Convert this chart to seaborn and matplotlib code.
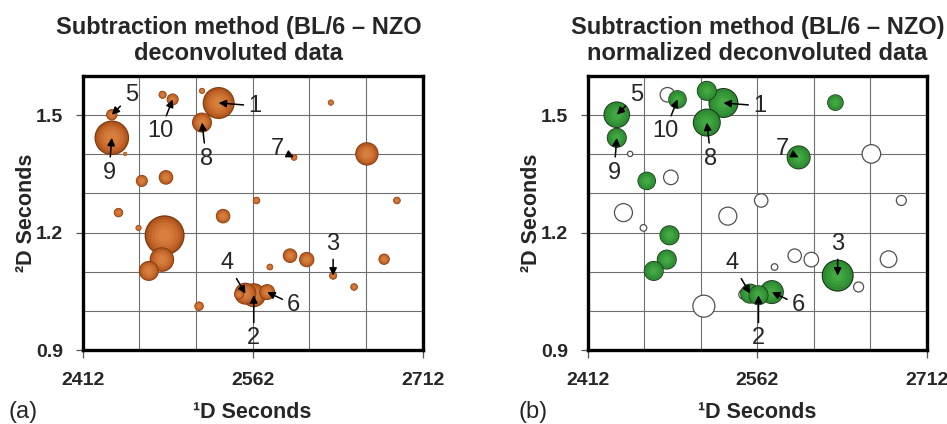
import numpy as np
import pandas as pd
import matplotlib
matplotlib.use("Agg")
import matplotlib.pyplot as plt
import seaborn as sns

# ---------------- data ----------------
peak_label = ["1", "2", "3", "4", "5", "6", "7", "8", "9", "10"] + [""] * 22
d1_sec = [2532.0, 2563.0, 2633.0, 2555.6, 2437.7, 2574.8, 2598.5, 2517.3, 2437.7, 2491.4,
          2482.5, 2517.3, 2631.0, 2662.8, 2449.5, 2464.2, 2485.5, 2565.4, 2689.3, 2443.6,
          2535.9, 2461.3, 2484.3, 2481.9, 2470.4, 2595.0, 2609.7, 2577.2, 2678.0, 2651.5,
          2514.7, 2550.0]
d2_sec = [1.531, 1.040, 1.090, 1.044, 1.501, 1.048, 1.392, 1.481, 1.442, 1.540,
          1.552, 1.562, 1.532, 1.401, 1.401, 1.332, 1.341, 1.282, 1.282, 1.251,
          1.242, 1.212, 1.193, 1.131, 1.102, 1.141, 1.131, 1.112, 1.132, 1.061,
          1.012, 1.042]
# (a) deconvoluted difference volume
volume_a = [2.56, 1.44, 0.16, 1.21, 0.32, 0.64, 0.11, 1.00, 3.00, 0.36,
            0.16, 0.09, 0.09, 1.37, 0.04, 0.36, 0.53, 0.14, 0.14, 0.22,
            0.53, 0.09, 4.00, 1.51, 1.00, 0.53, 0.59, 0.11, 0.32, 0.14,
            0.22, 0.25]
# (b) normalized deconvoluted difference volume
volume_b = [2.25, 1.00, 2.56, 1.00, 1.77, 1.44, 1.44, 1.96, 1.00, 0.86,
            0.53, 1.00, 0.69, 0.86, 0.07, 0.86, 0.53, 0.45, 0.25, 0.81,
            0.81, 0.11, 1.00, 1.00, 1.00, 0.45, 0.53, 0.11, 0.69, 0.25,
            1.21, 0.25]
significant_b = [True, True, True, True, True, True, True, True, True, True,
                 False, True, True, False, False, True, False, False, False, False,
                 False, False, True, True, True, False, False, False, False, False,
                 False, False]

x_ticks = [2412, 2562, 2712]
y_ticks = [0.9, 1.2, 1.5]
titles = ["Subtraction method (BL/6 \u2013 NZO\ndeconvoluted data",
          "Subtraction method (BL/6 \u2013 NZO)\nnormalized deconvoluted data"]
panel_tags = ["(a)", "(b)"]

df = pd.DataFrame({"label": peak_label, "x": d1_sec, "y": d2_sec,
                   "vol_a": volume_a, "vol_b": volume_b, "sig": significant_b})

# ---------------- style ----------------
sns.set_style("white")
plt.rcParams["font.family"] = ["Liberation Sans", "DejaVu Sans"]

VMAX = 4.0
K = 207.36  # points^2 per volume unit

fig = plt.figure(figsize=(9.47, 4.24), dpi=100)
ax_a = fig.add_axes([0.0873, 0.1745, 0.359, 0.6463])
ax_b = fig.add_axes([0.6206, 0.1745, 0.3583, 0.6463])


def layered_scatter(ax, sub, col, factors, colors):
    rows = []
    for _, r in sub.sort_values(col, ascending=False).iterrows():
        for k, f in enumerate(factors):
            rows.append({"x": r["x"], "y": r["y"], "ls": r[col] * f * f, "layer": f"L{k}"})
    long = pd.DataFrame(rows)
    pal = {f"L{k}": c for k, c in enumerate(colors)}
    sns.scatterplot(data=long, x="x", y="y", size="ls", sizes=(0, K * VMAX),
                    size_norm=(0, VMAX), hue="layer", palette=pal,
                    hue_order=list(pal.keys()), linewidth=0, legend=False,
                    ax=ax, zorder=3)


orange_f = [1.0, 0.93, 0.8, 0.66, 0.5, 0.34]
orange_c = ["#7E3A10", "#B0561C", "#BF6227", "#C96D30", "#D07637", "#D67E3E"]
green_f = [1.0, 0.93, 0.75, 0.55, 0.35]
green_c = ["#1B331B", "#2E8A31", "#349536", "#3B9E3C", "#43A843"]

layered_scatter(ax_a, df, "vol_a", orange_f, orange_c)

open_df = df[~df["sig"]]
sns.scatterplot(data=open_df, x="x", y="y", size="vol_b", sizes=(0, K * VMAX),
                size_norm=(0, VMAX), color="white", edgecolor="#505050",
                linewidth=0.9, legend=False, ax=ax_b, zorder=3)
layered_scatter(ax_b, df[df["sig"]], "vol_b", green_f, green_c)

label_offsets = {"1": (26, -2), "2": (0, -31), "3": (0, 23), "4": (-13, 22),
                 "5": (14, 14), "6": (19, -9), "7": (-12, 6), "8": (3, -26),
                 "9": (-2, -25), "10": (-9, -23)}
title_x = [0.459, 0.5]

for ax, title, tx in zip([ax_a, ax_b], titles, title_x):
    ax.set_xlim(2412, 2712)
    ax.set_ylim(0.9, 1.6)
    ax.set_xticks(x_ticks)
    ax.set_yticks(y_ticks)
    ax.set_xticklabels([str(t) for t in x_ticks], fontsize=14, fontweight="bold")
    ax.set_yticklabels([f"{t:.1f}" for t in y_ticks], fontsize=14, fontweight="bold")
    ax.set_xticks([2462, 2512, 2612, 2662], minor=True)
    ax.set_yticks([1.0, 1.1, 1.3, 1.4], minor=True)
    ax.tick_params(axis="x", which="major", length=6, width=0.9, color="#555555",
                   pad=9.5, direction="out", bottom=True)
    ax.tick_params(axis="y", which="major", length=5, width=0.9, color="#555555",
                   pad=9, direction="out", left=True)
    ax.tick_params(which="minor", length=0)
    ax.grid(which="both", color="#6e6e6e", linewidth=0.8)
    ax.set_axisbelow(True)
    for s in ax.spines.values():
        s.set_linewidth(2.4)
        s.set_color("black")
        s.set_zorder(5)
    ax.set_title(title, fontsize=17, fontweight="bold", pad=11.5, linespacing=1.15, x=tx)
    ax.set_xlabel("\u00b9D Seconds", fontsize=15.5, fontweight="bold")
    ax.set_ylabel("\u00b2D Seconds", fontsize=15.5, fontweight="bold")
    ax.xaxis.set_label_coords(0.5, -0.19)
    ax.yaxis.set_label_coords(-0.134, 0.5)
    for _, r in df[df["label"] != ""].iterrows():
        dx, dy = label_offsets[r["label"]]
        ax.annotate(r["label"], xy=(r["x"], r["y"]), xytext=(dx, dy),
                    textcoords="offset points", ha="center", va="center",
                    fontsize=17, zorder=6,
                    arrowprops=dict(arrowstyle="-|>", color="black", lw=1.1,
                                    mutation_scale=11, shrinkA=1, shrinkB=0))

fig.text(8 / 947, 1 - 412 / 424, panel_tags[0], fontsize=17, va="center", ha="left")
fig.text(519 / 947, 1 - 412 / 424, panel_tags[1], fontsize=17, va="center", ha="left")

fig.savefig("out.png", dpi=100)
